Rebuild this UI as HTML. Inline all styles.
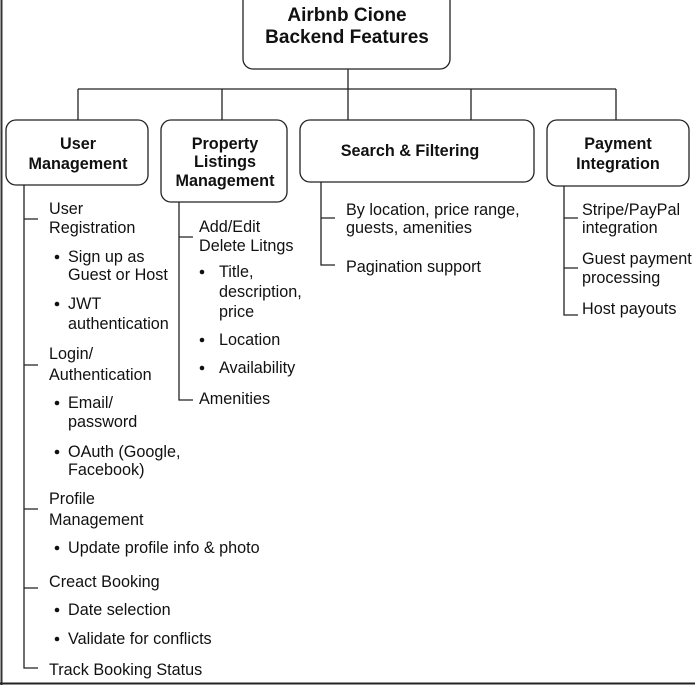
<!DOCTYPE html>
<html><head><meta charset="utf-8"><style>
html,body{margin:0;padding:0;background:#fff;}
svg{display:block;}
text{font-family:"Liberation Sans",Arial,sans-serif;fill:#111;}
.b{font-weight:bold;font-size:16.2px;}
.t{font-size:16.2px;}
</style></head><body>
<svg width="695" height="685" viewBox="0 0 695 685" xmlns="http://www.w3.org/2000/svg">
<rect x="0" y="0" width="695" height="685" fill="#fff"/>
<line x1="1.5" y1="0" x2="1.5" y2="685" stroke="#333" stroke-width="2"/>
<line x1="0" y1="683.5" x2="695" y2="683.5" stroke="#222" stroke-width="2"/>
<g fill="none" stroke="#222" stroke-width="1.3">
<rect x="243" y="-20" width="207" height="89" rx="10"/>
<line x1="348" y1="69" x2="348" y2="89"/>
<line x1="78" y1="89" x2="616" y2="89"/>
<line x1="78" y1="89" x2="78" y2="120"/>
<line x1="222" y1="89" x2="222" y2="120"/>
<line x1="348" y1="89" x2="348" y2="120"/>
<line x1="471" y1="89" x2="471" y2="120"/>
<line x1="616" y1="89" x2="616" y2="120"/>
<rect x="6" y="120" width="142" height="65" rx="10"/>
<rect x="161" y="120" width="126" height="82" rx="10"/>
<rect x="300" y="120" width="234" height="62" rx="10"/>
<rect x="547" y="120" width="142" height="66" rx="10"/>
<path d="M24 185 V668 H38 M24 219 H38 M24 365 H38 M24 509 H38 M24 588 H38"/>
<path d="M179 202 V400 H193 M179 237 H193"/>
<path d="M321 182 V265 H335 M321 218 H335"/>
<path d="M564 186 V315 H578 M564 218 H578 M564 268 H578"/>
</g>
<text class="b" x="347" y="21" text-anchor="middle" style="font-size:19px">Airbnb Cione</text>
<text class="b" x="347" y="43" text-anchor="middle" style="font-size:19px">Backend Features</text>
<text class="b" x="78" y="149" text-anchor="middle">User</text>
<text class="b" x="78" y="169" text-anchor="middle">Management</text>
<text class="b" x="225" y="149" text-anchor="middle">Property</text>
<text class="b" x="225" y="167" text-anchor="middle">Listings</text>
<text class="b" x="225" y="186" text-anchor="middle">Management</text>
<text class="b" x="410" y="156" text-anchor="middle">Search &amp; Filtering</text>
<text class="b" x="618" y="149" text-anchor="middle">Payment</text>
<text class="b" x="618" y="169" text-anchor="middle">Integration</text>
<g>
<text class="t" x="49" y="214">User</text>
<text class="t" x="49" y="233">Registration</text>
<text class="t" x="68" y="262">Sign up as</text>
<text class="t" x="68" y="280">Guest or Host</text>
<text class="t" x="68" y="309">JWT</text>
<text class="t" x="68" y="329">authentication</text>
<text class="t" x="49" y="359">Login/</text>
<text class="t" x="49" y="380">Authentication</text>
<text class="t" x="68" y="408">Email/</text>
<text class="t" x="68" y="427">password</text>
<text class="t" x="68" y="457">OAuth (Google,</text>
<text class="t" x="68" y="475">Facebook)</text>
<text class="t" x="49" y="504">Profile</text>
<text class="t" x="49" y="525">Management</text>
<text class="t" x="68" y="553">Update profile info &amp; photo</text>
<text class="t" x="49" y="587">Creact Booking</text>
<text class="t" x="68" y="615">Date selection</text>
<text class="t" x="68" y="644">Validate for conflicts</text>
<text class="t" x="49" y="675">Track Booking Status</text>
<text class="t" x="199" y="232">Add/Edit</text>
<text class="t" x="199" y="251">Delete Litngs</text>
<text class="t" x="219" y="277">Title,</text>
<text class="t" x="219" y="297">description,</text>
<text class="t" x="219" y="317">price</text>
<text class="t" x="219" y="345">Location</text>
<text class="t" x="219" y="373">Availability</text>
<text class="t" x="199" y="404">Amenities</text>
<text class="t" x="346" y="215">By location, price range,</text>
<text class="t" x="346" y="233">guests, amenities</text>
<text class="t" x="346" y="272">Pagination support</text>
<text class="t" x="582" y="215">Stripe/PayPal</text>
<text class="t" x="582" y="233">integration</text>
<text class="t" x="582" y="264">Guest payment</text>
<text class="t" x="582" y="283">processing</text>
<text class="t" x="582" y="314">Host payouts</text>
</g>
<g fill="#111">
<circle cx="57" cy="257" r="2.3"/><circle cx="57" cy="304" r="2.3"/>
<circle cx="57" cy="403" r="2.3"/><circle cx="57" cy="452" r="2.3"/>
<circle cx="57" cy="548" r="2.3"/><circle cx="57" cy="610" r="2.3"/>
<circle cx="57" cy="639" r="2.3"/>
<circle cx="202" cy="272" r="2.3"/><circle cx="202" cy="340" r="2.3"/>
<circle cx="202" cy="368" r="2.3"/>
</g>
</svg>
</body></html>
